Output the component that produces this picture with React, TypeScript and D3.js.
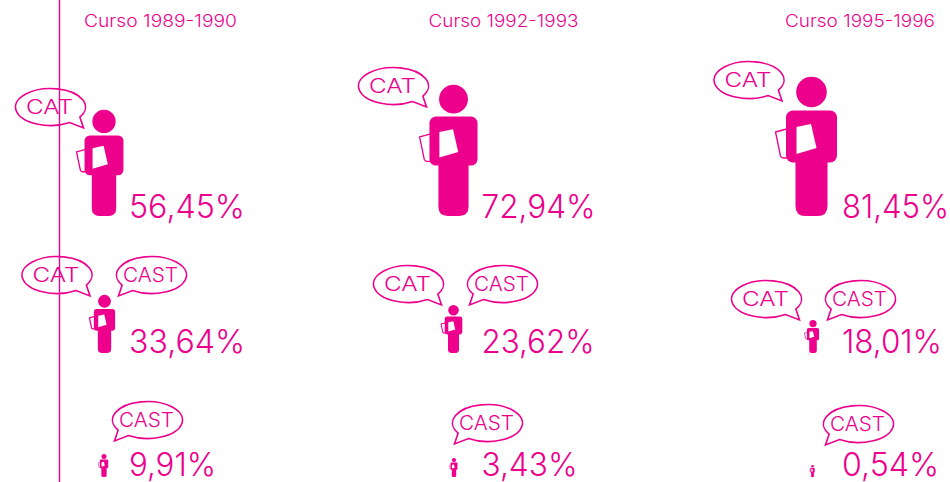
import React from "react";
import * as d3 from "d3";

const COLOR = "#ec008c";
const FONT = "Inter, 'Noto Sans', sans-serif";

const courses = ["Curso 1989-1990", "Curso 1992-1993", "Curso 1995-1996"];
const catOnly = [56.45, 72.94, 81.45];
const both = [33.64, 23.62, 18.01];
const castOnly = [9.91, 3.43, 0.54];

// Pictogram height (not strictly proportional)
const heightStops = [0.54, 3.43, 9.91, 18.01, 23.62, 33.64, 56.45, 72.94, 81.45];
const heightPx = [12, 19, 23, 33, 48, 58, 106, 131, 139];
const h = d3.scaleLinear().domain(heightStops).range(heightPx);

const colX = [
  [104, 453.5, 811.5],
  [104.5, 453.5, 813],
  [104, 454, 812.5],
];
const pctX = [129, 481.5, 842];
const pctWidth = [
  [116, 114, 107],
  [116, 113, 100],
  [87, 96, 97],
];
const titleX = [160.5, 503.5, 860];
const rowBottom = [216, 353, 477];
const rowBaseline = [218, 353, 476];

const catRow0 = [[50.5, 107], [393.5, 86], [749, 80]];
const catRow1 = [[57, 275], [408.5, 284], [766.5, 299]];
const castRow1 = [[151.5, 275], [502.5, 284], [860.5, 299]];
const castRow2 = [[147.5, 420], [487.5, 423], [858.5, 424]];

const fmt = (v: number) => v.toFixed(2).replace(".", ",") + "%";

function Bubble({ cx, cy, label, side }: { cx: number; cy: number; label: string; side: 1 | -1 }) {
  const rx = 35, ry = 18.5;
  const a1 = (33 * Math.PI) / 180, a2 = (57 * Math.PI) / 180;
  const p1 = [side * rx * Math.cos(a1), ry * Math.sin(a1)];
  const p2 = [side * rx * Math.cos(a2), ry * Math.sin(a2)];
  const tip = [side * 33, 21];
  const sweep = side === 1 ? 0 : 1;
  const d = `M${p1[0]},${p1[1]} A${rx},${ry} 0 1 ${sweep} ${p2[0]},${p2[1]} L${tip[0]},${tip[1]} Z`;
  return (
    <g transform={`translate(${cx},${cy})`}>
      <path d={d} fill="none" stroke={COLOR} strokeWidth={1.6} strokeLinejoin="miter" />
      <text
        x={-1}
        y={7}
        textAnchor="middle"
        fontFamily={FONT}
        fontWeight={300}
        fontSize={20}
        fill={COLOR}
        textLength={label === "CAT" ? 47 : 55}
        lengthAdjust="spacingAndGlyphs"
      >
        {label}
      </text>
    </g>
  );
}

function Person({ x, bottom, height }: { x: number; bottom: number; height: number }) {
  const s = height / 139;
  const sw = Math.min(1.3 / s, 3);
  return (
    <g transform={`translate(${x},${bottom}) scale(${s})`}>
      <path
        d="M-36,-84 L-25,-87 L-20,-87 L-20,-58 L-28,-58 Q-30,-58 -31,-60 Z"
        fill="#fff"
        stroke={COLOR}
        strokeWidth={sw}
        strokeLinejoin="round"
      />
      <circle cx={0} cy={-124} r={15.3} fill={COLOR} />
      <rect x={-25.5} y={-105.5} width={51} height={52} rx={7} fill={COLOR} />
      <path d="M-16,-70 L16,-70 L16,-10 Q16,0 6,0 L-6,0 Q-16,0 -16,-10 Z" fill={COLOR} />
      <path d="M-15,-89 L-0.5,-92 L5,-68 L-15,-62 Z" fill="#fff" />
    </g>
  );
}

export default function App() {
  const rows = [catOnly, both, castOnly];
  return (
    <svg
      width={950}
      height={482}
      viewBox="0 0 950 482"
      style={{ position: "absolute", left: 0, top: 0, background: "#fff" }}
    >
      {courses.map((c, i) => (
        <text
          key={c}
          x={titleX[i]}
          y={27}
          textAnchor="middle"
          fontFamily={FONT}
          fontWeight={300}
          fontSize={17}
          fill={COLOR}
          textLength={i === 0 ? 153 : 150}
          lengthAdjust="spacingAndGlyphs"
        >
          {c}
        </text>
      ))}

      {rows.map((vals, r) =>
        vals.map((v, i) => (
          <g key={`${r}-${i}`}>
            <Person x={colX[r][i]} bottom={rowBottom[r]} height={h(v)} />
            <text
              x={pctX[i]}
              y={rowBaseline[r]}
              fontFamily={FONT}
              fontWeight={300}
              fontSize={32}
              fill={COLOR}
              textLength={pctWidth[r][i]}
              lengthAdjust="spacingAndGlyphs"
            >
              {fmt(v)}
            </text>
          </g>
        ))
      )}

      {catRow0.map(([x, y], i) => <Bubble key={`a${i}`} cx={x} cy={y} label="CAT" side={1} />)}
      {catRow1.map(([x, y], i) => <Bubble key={`b${i}`} cx={x} cy={y} label="CAT" side={1} />)}
      {castRow1.map(([x, y], i) => <Bubble key={`c${i}`} cx={x} cy={y} label="CAST" side={-1} />)}
      {castRow2.map(([x, y], i) => <Bubble key={`d${i}`} cx={x} cy={y} label="CAST" side={-1} />)}

      <line x1={59.5} x2={59.5} y1={0} y2={482} stroke={COLOR} strokeWidth={1.4} />
    </svg>
  );
}
